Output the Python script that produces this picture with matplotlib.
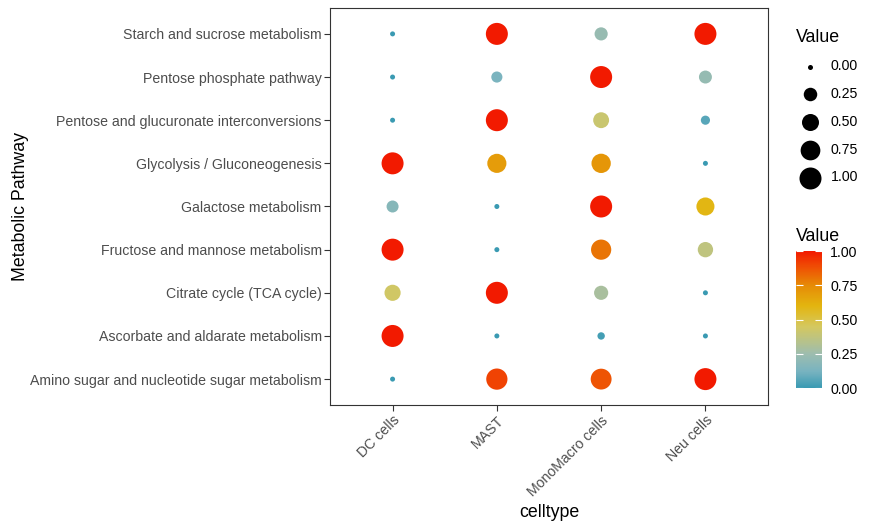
import numpy as np
import matplotlib
matplotlib.use('Agg')
import matplotlib.pyplot as plt
from matplotlib.colors import LinearSegmentedColormap, Normalize
from matplotlib.cm import ScalarMappable

plt.rcParams['font.family'] = ['Liberation Sans', 'DejaVu Sans']

celltypes = ['DC cells', 'MAST', 'MonoMacro cells', 'Neu cells']

# bottom to top
pathways = [
    'Amino sugar and nucleotide sugar metabolism',
    'Ascorbate and aldarate metabolism',
    'Citrate cycle (TCA cycle)',
    'Fructose and mannose metabolism',
    'Galactose metabolism',
    'Glycolysis / Gluconeogenesis',
    'Pentose and glucuronate interconversions',
    'Pentose phosphate pathway',
    'Starch and sucrose metabolism',
]

# values per pathway, columns follow celltypes
amino = [0.00, 0.91, 0.87, 1.00]
ascorbate = [1.00, 0.00, 0.02, 0.00]
citrate = [0.43, 1.00, 0.29, 0.00]
fructose = [1.00, 0.00, 0.80, 0.37]
galactose = [0.17, 0.00, 1.00, 0.59]
glycolysis = [1.00, 0.69, 0.71, 0.00]
pentose_gluc = [0.00, 1.00, 0.41, 0.06]
pentose_phos = [0.00, 0.13, 1.00, 0.22]
starch = [0.00, 1.00, 0.23, 1.00]

values = np.array([amino, ascorbate, citrate, fructose, galactose,
                   glycolysis, pentose_gluc, pentose_phos, starch])

legend_values = [0.0, 0.25, 0.5, 0.75, 1.0]

# colour scale
cmap = LinearSegmentedColormap.from_list('zissou', [
    (0.00, '#3A9AB2'), (0.12, '#78B3C0'), (0.25, '#9EBDAE'),
    (0.45, '#D5C85E'), (0.60, '#E3B50F'), (0.75, '#E68B06'),
    (0.88, '#EF5004'), (1.00, '#F21A00')])
norm = Normalize(0, 1)


def dot_size(v):
    # diameter in px -> points^2 at 100 dpi
    d = 5 + 17 * np.sqrt(np.asarray(v))
    return (d * 0.72) ** 2


fig = plt.figure(figsize=(8.77, 5.29), dpi=100)
ax = fig.add_axes([330 / 877, 1 - 405 / 529, 438 / 877, 397 / 529])

xx, yy = np.meshgrid(np.arange(len(celltypes)), np.arange(len(pathways)))
ax.scatter(xx.ravel(), yy.ravel(), s=dot_size(values.ravel()),
           c=values.ravel(), cmap=cmap, norm=norm, linewidths=0)

ax.set_xlim(-0.6, len(celltypes) - 0.4)
ax.set_ylim(-0.6, len(pathways) - 0.4)
ax.set_xticks(range(len(celltypes)))
ax.set_xticklabels(celltypes, rotation=45, ha='right', va='top',
                   rotation_mode='anchor')
ax.set_yticks(range(len(pathways)))
ax.set_yticklabels(pathways)
ax.tick_params(labelsize=10.2, labelcolor='#4D4D4D', color='#333333',
               length=4, width=0.8, pad=2)
for sp in ax.spines.values():
    sp.set_color('#333333')
    sp.set_linewidth(0.8)

ax.set_xlabel('celltype', fontsize=12.8, labelpad=4)
ax.set_ylabel('Metabolic Pathway', fontsize=12.8, labelpad=0.5)

# size legend
handles = [ax.scatter([], [], s=dot_size(v), c='black', linewidths=0)
           for v in legend_values]
leg = fig.legend(handles, ['%.2f' % v for v in legend_values], title='Value',
                 loc='upper left', bbox_to_anchor=(790 / 877, 1 - 23 / 529),
                 frameon=False, fontsize=10.2, title_fontsize=12.8,
                 labelspacing=0.97, handletextpad=0.45, scatterpoints=1,
                 alignment='left', borderaxespad=0)

# colour legend
cax = fig.add_axes([796 / 877, 1 - 388 / 529, 26 / 877, 137 / 529])
cb = fig.colorbar(ScalarMappable(norm=norm, cmap=cmap), cax=cax,
                  ticks=legend_values)
cb.outline.set_visible(False)
cb.ax.set_yticklabels(['%.2f' % v for v in legend_values])
cax.yaxis.set_ticks_position('both')
cax.tick_params(direction='in', length=5, width=0.8, color='white',
                labelsize=10.2, labelcolor='black', labelleft=False,
                labelright=True, pad=6)
cax.set_title('Value', loc='left', fontsize=12.8, pad=7)

plt.savefig('out.png')
